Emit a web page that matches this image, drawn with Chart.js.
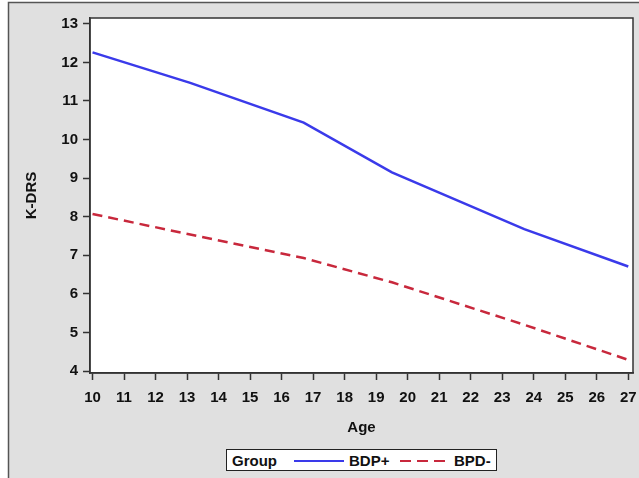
<!DOCTYPE html>
<html lang="en">
<head>
    <meta charset="UTF-8">
    <title>K-DRS by Age</title>
    <script src="https://cdn.jsdelivr.net/npm/chart.js"></script>
    <style>
        * {
            margin: 0;
            padding: 0;
            box-sizing: border-box;
            font-family: Arial, "Liberation Sans", sans-serif;
        }
        body {
            width: 639px;
            height: 478px;
            background: #ffffff;
            position: relative;
            overflow: hidden;
        }
        #chart {
            position: absolute;
            left: 0;
            top: 0;
        }
        .legend {
            position: absolute;
            left: 226px;
            top: 449px;
            width: 271px;
            height: 22px;
            background: #ffffff;
            border: 1px solid #222;
            display: flex;
            align-items: center;
            font-size: 15px;
            font-weight: bold;
            color: #111;
        }
        .legend span { position: absolute; }
        .legend .swatch {
            position: absolute;
            height: 2px;
            top: 10px;
        }
    </style>
</head>
<body>
    <canvas id="chart" width="639" height="478"></canvas>
    <div class="legend">
        <span style="left: 5px;">Group</span>
        <div class="swatch" style="left: 67px; width: 50px; background: #3a3aea;"></div>
        <span style="left: 122px;">BDP+</span>
        <div class="swatch" style="left: 173px; width: 45px; background: repeating-linear-gradient(to right, #c8283c 0 11px, transparent 11px 17px);"></div>
        <span style="left: 227px;">BPD-</span>
    </div>

    <script>
        // values
        const ages = [10, 13.1, 16.7, 19.5, 23.7, 27];
        const bdpPlus = [12.26, 11.47, 10.44, 9.15, 7.68, 6.71];
        const bpdMinus = [8.07, 7.54, 6.93, 6.30, 5.20, 4.29];
        const xTicks = [10, 11, 12, 13, 14, 15, 16, 17, 18, 19, 20, 21, 22, 23, 24, 25, 26, 27];
        const yTicks = [4, 5, 6, 7, 8, 9, 10, 11, 12, 13];

        const tickFont = { family: 'Arial, "Liberation Sans", sans-serif', size: 15, weight: 'bold' };

        const frame = {
            id: 'frame',
            beforeDraw(chart) {
                const ctx = chart.ctx;
                const a = chart.chartArea;
                ctx.save();
                ctx.fillStyle = '#ffffff';
                ctx.fillRect(0, 0, chart.width, chart.height);
                ctx.fillStyle = '#e0e0e0';
                ctx.fillRect(8, 2, chart.width - 8, chart.height - 2);
                ctx.strokeStyle = '#555';
                ctx.lineWidth = 1.5;
                ctx.beginPath();
                ctx.moveTo(8.5, chart.height);
                ctx.lineTo(8.5, 2.5);
                ctx.lineTo(chart.width, 2.5);
                ctx.stroke();
                ctx.fillStyle = '#ffffff';
                ctx.fillRect(a.left, a.top, a.right - a.left, a.bottom - a.top);
                ctx.restore();
            },
            afterDraw(chart) {
                const ctx = chart.ctx;
                const a = chart.chartArea;
                ctx.save();
                ctx.strokeStyle = '#333';
                ctx.lineWidth = 1.5;
                ctx.strokeRect(a.left, a.top, a.right - a.left, a.bottom - a.top);
                ctx.restore();
            }
        };

        function toPoints(ys) {
            return ages.map((x, i) => ({ x: x, y: ys[i] }));
        }

        new Chart(document.getElementById('chart').getContext('2d'), {
            type: 'line',
            data: {
                datasets: [{
                    label: 'BDP+',
                    data: toPoints(bdpPlus),
                    borderColor: '#3a3aea',
                    borderWidth: 2.5,
                    pointRadius: 0,
                    tension: 0
                }, {
                    label: 'BPD-',
                    data: toPoints(bpdMinus),
                    borderColor: '#c8283c',
                    borderWidth: 2.5,
                    borderDash: [10, 6],
                    pointRadius: 0,
                    tension: 0
                }]
            },
            options: {
                responsive: false,
                animation: false,
                devicePixelRatio: 1,
                layout: { padding: { left: 0, top: 18, right: 6, bottom: 0 } },
                plugins: {
                    legend: { display: false },
                    tooltip: { enabled: false }
                },
                scales: {
                    x: {
                        type: 'linear',
                        min: 9.92,
                        max: 27.15,
                        afterBuildTicks: scale => { scale.ticks = xTicks.map(v => ({ value: v })); },
                        afterFit: scale => {
                            scale.height = 105;
                            scale.paddingLeft = 0;
                            scale.paddingRight = 0;
                        },
                        grid: { drawOnChartArea: false, tickLength: 7, tickWidth: 1.5, color: '#333' },
                        border: { color: '#333', width: 1.5 },
                        ticks: { font: tickFont, color: '#111', padding: 9, maxRotation: 0, autoSkip: false },
                        title: {
                            display: true,
                            text: 'Age',
                            font: tickFont,
                            color: '#111',
                            padding: { top: 0, bottom: 41 }
                        }
                    },
                    y: {
                        min: 3.95,
                        max: 13.15,
                        afterBuildTicks: scale => { scale.ticks = yTicks.map(v => ({ value: v })); },
                        afterFit: scale => {
                            scale.width = 90;
                            scale.paddingTop = 0;
                            scale.paddingBottom = 0;
                        },
                        grid: { drawOnChartArea: false, tickLength: 7, tickWidth: 1.5, color: '#333' },
                        border: { color: '#333', width: 1.5 },
                        ticks: { font: tickFont, color: '#111', padding: 5 },
                        title: {
                            display: true,
                            text: 'K-DRS',
                            font: tickFont,
                            color: '#111',
                            padding: { top: 23, bottom: 0 }
                        }
                    }
                }
            },
            plugins: [frame]
        });
    </script>
</body>
</html>
